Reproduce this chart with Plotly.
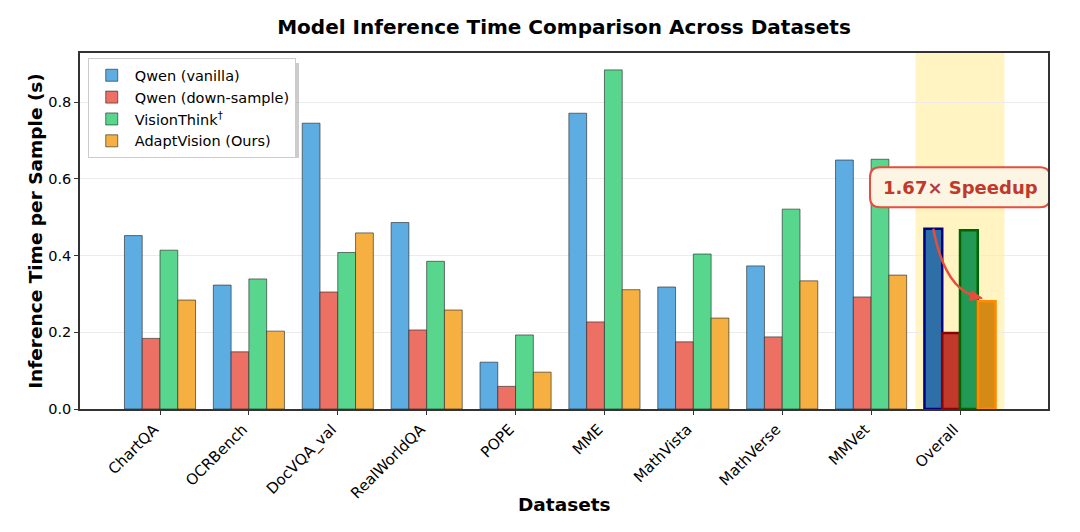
import plotly.graph_objects as go

# Inference time per sample (s)
datasets = ['ChartQA', 'OCRBench', 'DocVQA_val', 'RealWorldQA', 'POPE',
            'MME', 'MathVista', 'MathVerse', 'MMVet', 'Overall']
qwen_vanilla = [0.452, 0.323, 0.745, 0.486, 0.122, 0.771, 0.318, 0.373, 0.649, 0.470]
qwen_downsample = [0.184, 0.149, 0.305, 0.206, 0.059, 0.227, 0.175, 0.188, 0.292, 0.198]
visionthink = [0.414, 0.339, 0.408, 0.385, 0.193, 0.884, 0.404, 0.521, 0.651, 0.466]
adaptvision = [0.284, 0.203, 0.459, 0.258, 0.096, 0.311, 0.237, 0.334, 0.349, 0.281]

series_names = ['Qwen (vanilla)', 'Qwen (down-sample)', 'VisionThink<sup>†</sup>', 'AdaptVision (Ours)']
series_values = [qwen_vanilla, qwen_downsample, visionthink, adaptvision]

FONT = 'DejaVu Sans, Arial, sans-serif'
base_colors = ['#5dade2', '#ec7063', '#58d68d', '#f5b041']
overall_colors = ['#2e6fa7', '#c0392b', '#229a55', '#d68a16']
overall_edges = ['#000080', '#8b0000', '#006400', '#ff8c00']

n = len(datasets)
xs = list(range(n))
bar_w = 0.2

fig = go.Figure()

for i, (name, vals) in enumerate(zip(series_names, series_values)):
    colors = [base_colors[i]] * (n - 1) + [overall_colors[i]]
    edge_colors = ['rgba(40,40,40,0.7)'] * (n - 1) + [overall_edges[i]]
    edge_widths = [0.9] * (n - 1) + [2.5]
    fig.add_trace(go.Bar(
        x=xs,
        y=vals,
        name=name,
        width=bar_w,
        offset=-2 * bar_w + i * bar_w,
        marker=dict(color=colors, line=dict(color=edge_colors, width=edge_widths)),
    ))

# highlight band behind "Overall"
fig.add_shape(type='rect', xref='x', yref='paper', x0=n - 1.5, x1=n - 0.5, y0=0, y1=1,
              fillcolor='#fff4c2', line=dict(width=0), layer='below')

# legend drop shadow
fig.add_shape(type='rect', xref='paper', yref='paper',
              x0=11 / 968, x1=219 / 968, y0=1 - 105 / 356, y1=1 - 10 / 356,
              fillcolor='rgba(0,0,0,0.2)', line=dict(width=0), layer='above')

# curved arrow from vanilla Qwen to AdaptVision on the Overall group
x_start, y_start = n - 1 - 1.5 * bar_w, qwen_vanilla[-1]
x_end, y_end = n - 1 + 1.25 * bar_w, adaptvision[-1] + 0.008
x_ctrl, y_ctrl = n - 1 - 0.17, 0.31
fig.add_shape(type='path', xref='x', yref='y',
              path=f'M {x_start},{y_start} Q {x_ctrl},{y_ctrl} {x_end - 0.05},{y_end + 0.003}',
              line=dict(color='#e74c3c', width=2.5))
# arrow head (pixels around the tip)
fig.add_shape(type='path', xref='x', yref='y', xsizemode='pixel', ysizemode='pixel',
              xanchor=x_end, yanchor=y_end,
              path='M 0,0 L -10.7,7.4 L -12.8,-2.4 Z',
              fillcolor='#e74c3c', line=dict(color='#e74c3c', width=1))

# speedup callout with rounded box
speedup = qwen_vanilla[-1] / adaptvision[-1]
box_x, box_y = n - 1, 0.578
bw, bh, r = 90, 20, 10
rounded = (f'M {-bw + r},{-bh} L {bw - r},{-bh} Q {bw},{-bh} {bw},{-bh + r} '
           f'L {bw},{bh - r} Q {bw},{bh} {bw - r},{bh} L {-bw + r},{bh} '
           f'Q {-bw},{bh} {-bw},{bh - r} L {-bw},{-bh + r} Q {-bw},{-bh} {-bw + r},{-bh} Z')
fig.add_shape(type='path', xref='x', yref='y', xsizemode='pixel', ysizemode='pixel',
              xanchor=box_x, yanchor=box_y, path=rounded,
              fillcolor='#fdf5e4', line=dict(color='#e74c3c', width=2))
fig.add_annotation(x=box_x, y=box_y, xref='x', yref='y', showarrow=False,
                   text=f'<b>{speedup:.2f}× Speedup</b>',
                   font=dict(family=FONT, size=18, color='#c0392b'))

# x axis title placed as annotation to sit closer to the rotated labels
fig.add_annotation(x=0.5, y=-0.268, xref='paper', yref='paper', showarrow=False,
                   xanchor='center', yanchor='middle', text='<b>Datasets</b>',
                   font=dict(family=FONT, size=18.5, color='black'))

fig.update_layout(
    width=1080,
    height=532,
    barmode='overlay',
    plot_bgcolor='white',
    paper_bgcolor='white',
    margin=dict(l=72, r=40, t=45, b=131),
    font=dict(family=FONT, size=14, color='black'),
    title=dict(text='<b>Model Inference Time Comparison Across Datasets</b>',
               x=556 / 1080, xanchor='center', y=1 - 19 / 532, yanchor='middle',
               font=dict(family=FONT, size=20, color='black')),
    legend=dict(x=0.008, y=0.985, xanchor='left', yanchor='top',
                bgcolor='white', bordercolor='#cccccc', borderwidth=1,
                font=dict(family=FONT, size=14.5), tracegroupgap=0, itemwidth=36),
    xaxis=dict(
        range=[-0.9, n - 0.01],
        tickvals=xs,
        ticktext=datasets,
        tickangle=-45,
        ticklabelshift=-6,
        ticks='outside', ticklen=4, tickcolor='#333333',
        showgrid=False, zeroline=False,
        showline=True, linecolor='#333333', linewidth=1.5, mirror=True,
        tickfont=dict(family=FONT, size=15, color='black'),
    ),
    yaxis=dict(
        range=[0, 0.928],
        tickvals=[0, 0.2, 0.4, 0.6, 0.8],
        ticktext=['0.0', '0.2', '0.4', '0.6', '0.8'],
        ticks='outside', ticklen=4, tickcolor='#333333',
        showgrid=True, gridcolor='#ebebeb', gridwidth=1, zeroline=False,
        showline=True, linecolor='#333333', linewidth=1.5, mirror=True,
        tickfont=dict(family=FONT, size=14.5, color='black'),
        title=dict(text='<b>Inference Time per Sample (s)</b>',
                   font=dict(family=FONT, size=18.5, color='black'), standoff=1),
    ),
)

fig.write_html('out.html')
